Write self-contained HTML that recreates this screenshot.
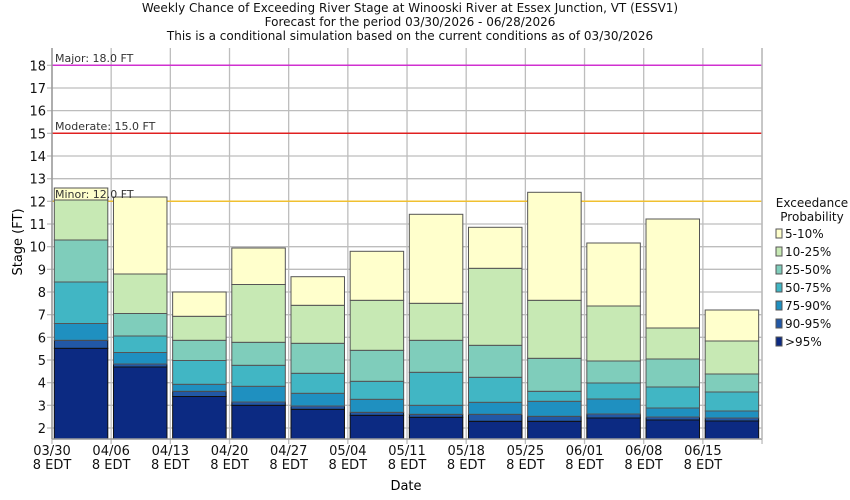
<!DOCTYPE html>
<html><head><meta charset="utf-8"><style>
body{margin:0;background:#fff}
svg{display:block;font-family:"DejaVu Sans","Liberation Sans",sans-serif}
</style></head><body>
<svg width="850" height="500" xmlns="http://www.w3.org/2000/svg">
<rect width="850" height="500" fill="#fff"/>
<g font-size="12" text-anchor="middle" fill="#111">
<text x="410" y="12">Weekly Chance of Exceeding River Stage at Winooski River at Essex Junction, VT (ESSV1)</text>
<text x="410" y="26">Forecast for the period 03/30/2026 - 06/28/2026</text>
<text x="410" y="40">This is a conditional simulation based on the current conditions as of 03/30/2026</text>
</g>
<g id="grid" stroke="#bdbdbd" stroke-width="1.3"></g>
<line x1="52" y1="65.3" x2="762" y2="65.3" stroke="#d030d0" stroke-width="1.5"/>
<line x1="52" y1="133.3" x2="762" y2="133.3" stroke="#e02020" stroke-width="1.5"/>
<line x1="52" y1="201.3" x2="762" y2="201.3" stroke="#f0c030" stroke-width="1.5"/>
<g id="bars" stroke="#555" stroke-width="1"></g>
<g font-size="11" fill="#333">
<text x="55" y="62">Major: 18.0 FT</text>
<text x="55" y="130">Moderate: 15.0 FT</text>
<text x="55" y="198">Minor: 12.0 FT</text>
</g>
<line x1="52" y1="48" x2="52" y2="439" stroke="#999" stroke-width="1.5"/>
<line x1="52" y1="439" x2="762" y2="439" stroke="#999" stroke-width="1.5"/>
<line x1="762" y1="48" x2="762" y2="439" stroke="#bbb" stroke-width="1.5"/>
<g id="ylab" font-size="13" text-anchor="end" fill="#111"></g>
<g id="xlab" font-size="13" text-anchor="middle" fill="#111"></g>
<text x="406" y="490" font-size="13" text-anchor="middle">Date</text>
<text transform="translate(22,242) rotate(-90)" font-size="13" text-anchor="middle">Stage (FT)</text>
<g font-size="12" fill="#111">
<text x="812" y="207" text-anchor="middle">Exceedance</text>
<text x="812" y="221" text-anchor="middle">Probability</text>
<g id="leg"></g>
</g>
</svg>
<script>
var ns="http://www.w3.org/2000/svg";
function el(p,t,a,txt){var e=document.createElementNS(ns,t);for(var k in a)e.setAttribute(k,a[k]);if(txt)e.textContent=txt;document.getElementById(p).appendChild(e);}
for(var v=2;v<=18;v++){var y=428-(v-2)*22.667;el("grid","line",{x1:52,x2:762,y1:y,y2:y});el("ylab","text",{x:46,y:y+5},String(v));el("grid","line",{x1:47,x2:52,y1:y,y2:y});}
var dates=["03/30","04/06","04/13","04/20","04/27","05/04","05/11","05/18","05/25","06/01","06/08","06/15"];
for(var i=0;i<=12;i++){var x=52+59.17*i;el("grid","line",{x1:x,x2:x,y1:48,y2:444});
if(i<12){el("xlab","text",{x:x,y:455},dates[i]);el("xlab","text",{x:x,y:469},"8 EDT");}}
var cols=["#0c2a82","#2258a6","#1f90c0","#41b6c4","#7fcdbb","#c7e9b4","#ffffcc"];
var B=[[348.3,340.3,323.5,282,240,200,188],
[367,364,352.5,336,313.5,274,197],
[396.5,391.3,384.3,360.5,340.3,316.3,292],
[405.3,402,386.3,365.3,342.3,284.5,248],
[409.3,406,393.3,373.3,343.3,305.3,276.7],
[415.3,412.3,399.3,381.3,350.3,300.3,251.3],
[417.3,414.3,405.3,372.3,340.3,303.3,214.3],
[421.3,414.3,402.3,377.3,345.3,268.3,227.3],
[421.3,416.3,401.3,391.3,358.3,300.3,192.3],
[418,414,399,383,361,306,243],
[420,417,408,387,359,328,219],
[421,418,411,392,374,341,310]];
for(var i=0;i<12;i++){var x=54.3+59.17*i,prev=439;
for(var j=0;j<7;j++){var t=B[i][j];el("bars","rect",{x:x,y:t,width:53.5,height:prev-t,fill:cols[j],stroke:j<2?"#111":"#555"});prev=t;}}
var L=["5-10%","10-25%","25-50%","50-75%","75-90%","90-95%",">95%"];
for(var k=0;k<7;k++){var y=229+18*k;el("leg","rect",{x:776,y:y,width:6,height:9,fill:cols[6-k],stroke:"#555","stroke-width":1});el("leg","text",{x:785,y:y+9},L[k]);}
</script>
</body></html>
